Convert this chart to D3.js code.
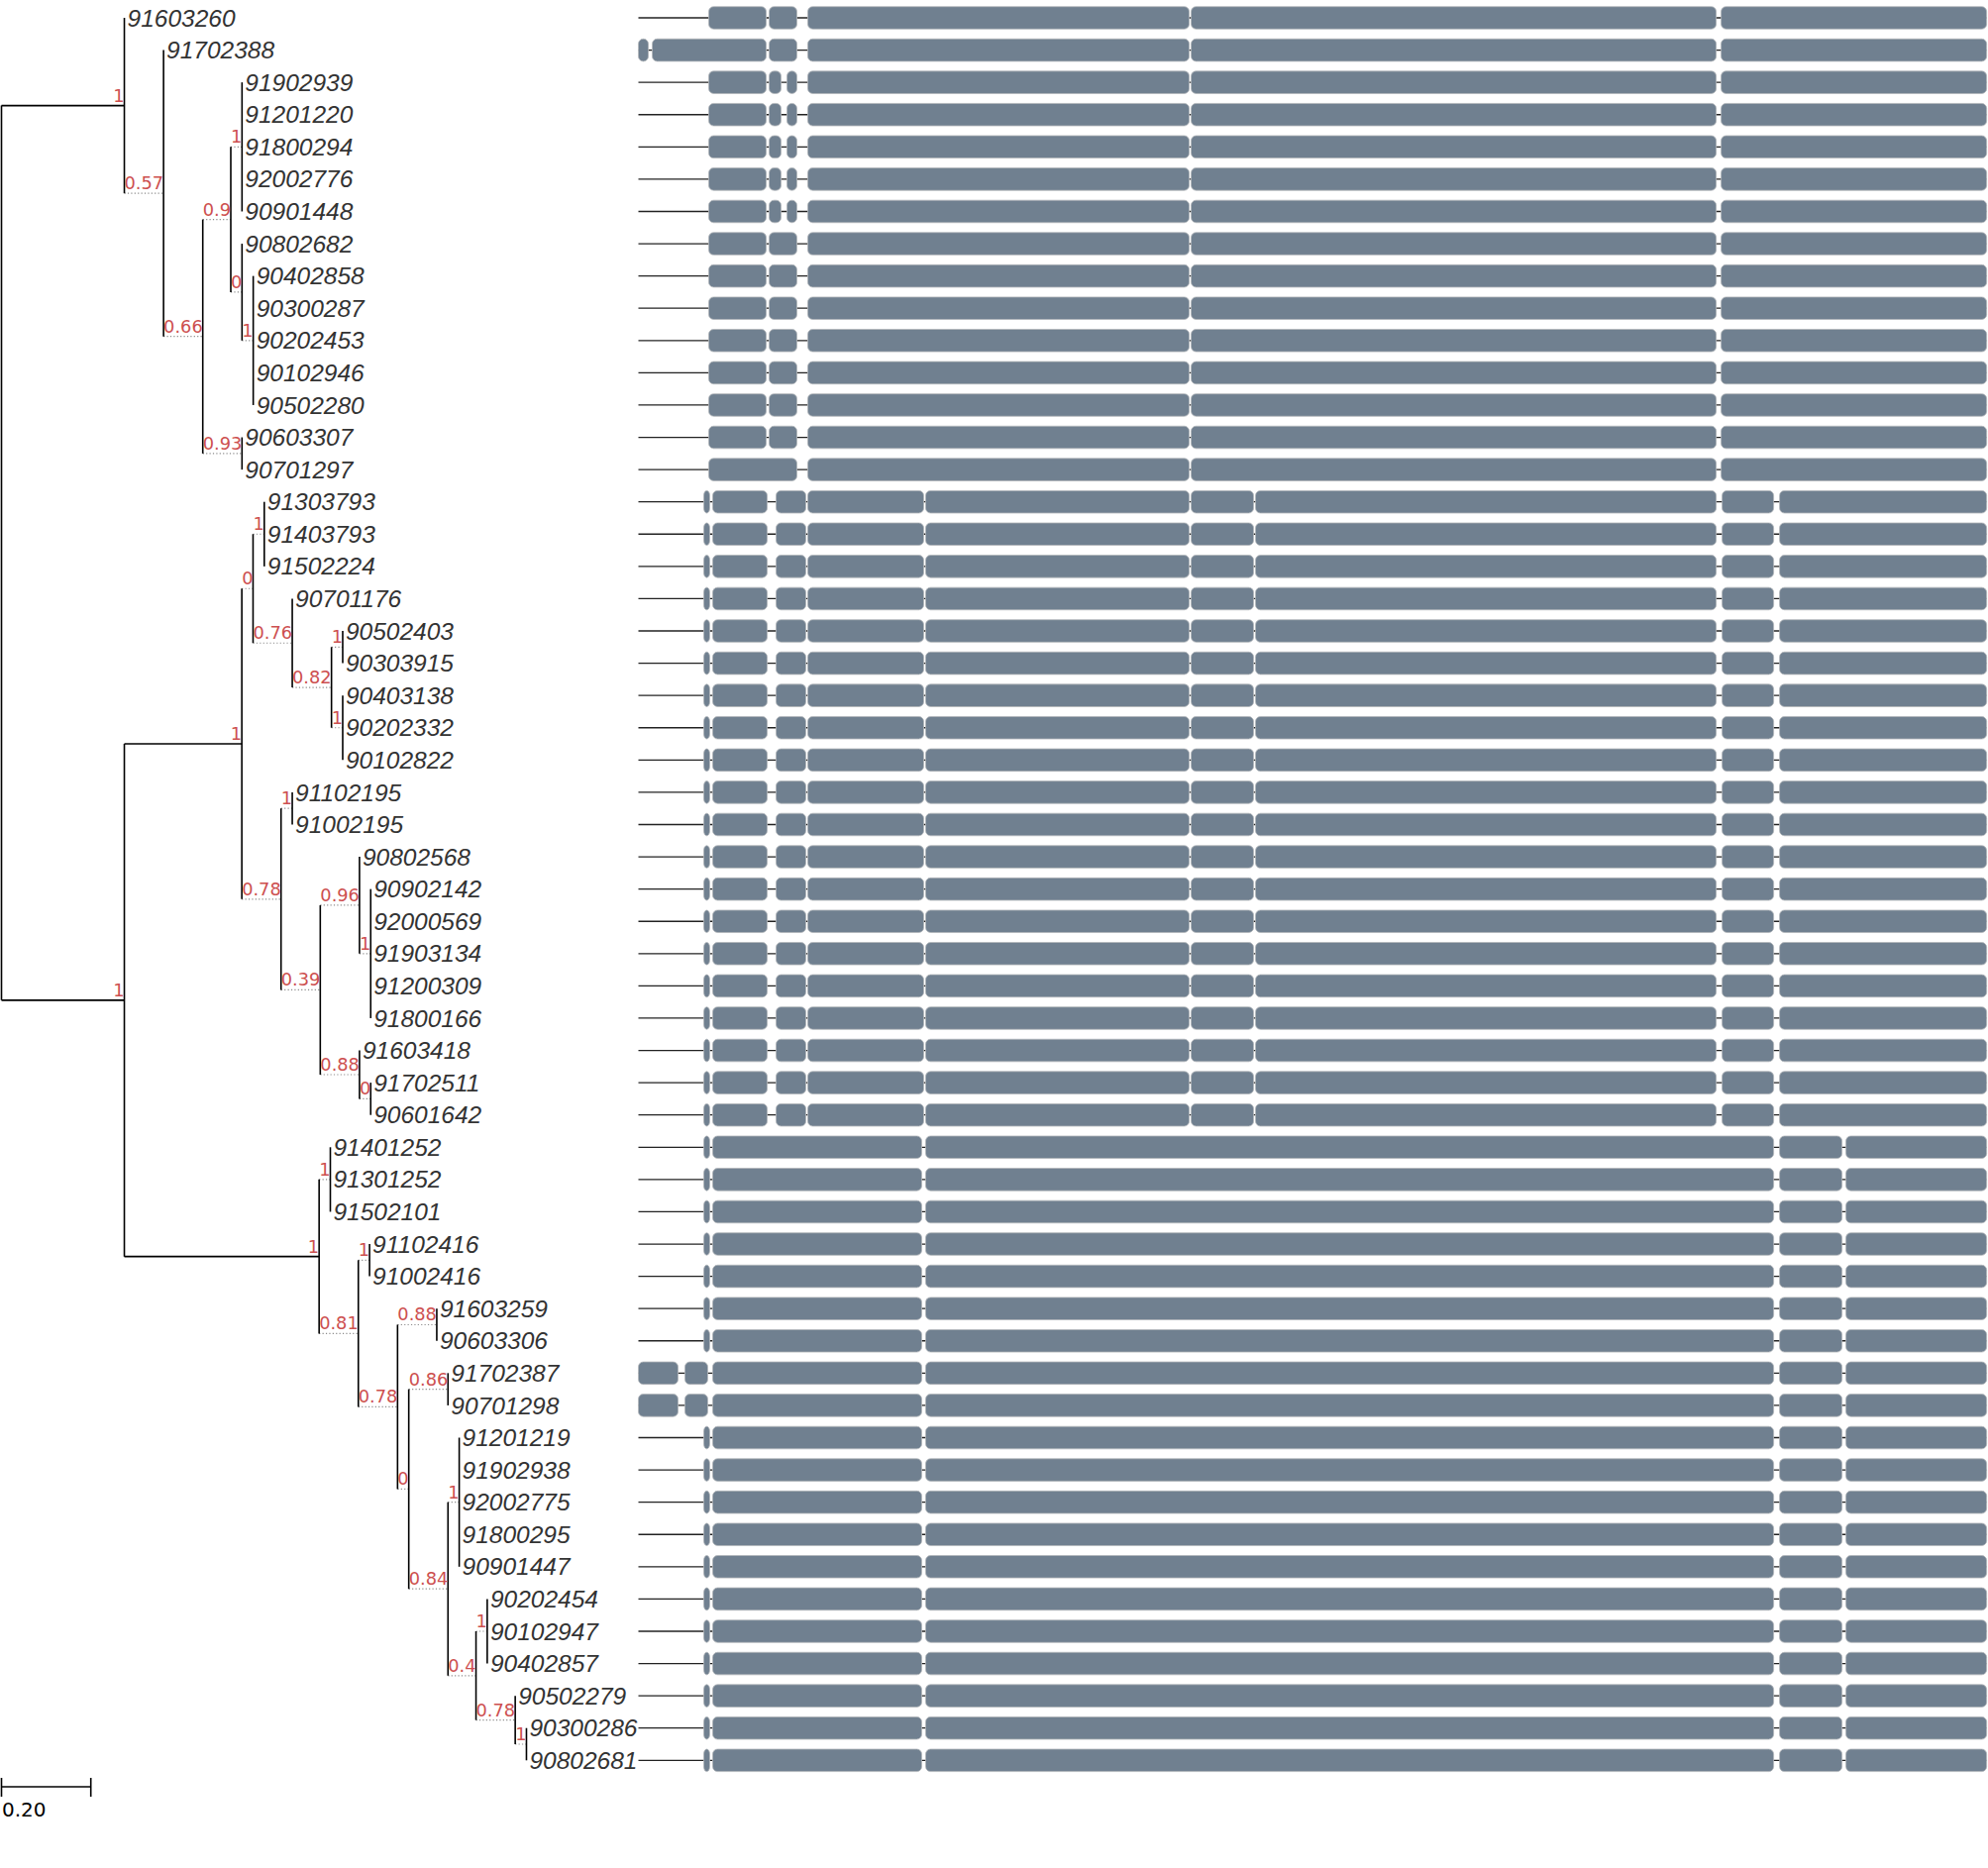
<!DOCTYPE html>
<html lang="en">

<head>
    <meta charset="UTF-8">
    <title>tree with gene structures</title>
    <script src="https://d3js.org/d3.v7.js"></script>
    <style>
        body { margin: 0; background: #fff; }
    </style>
</head>

<body>
    <div class="canvas"></div>

    <script>
        // tree: newick with support values as internal labels, branch lengths after ':'
        let cladeA = "(91603260:0,(91702388:0,(((91902939:0,91201220:0,91800294:0,92002776:0,90901448:0)1:0,"
            + "(90802682:0,(90402858:0,90300287:0,90202453:0,90102946:0,90502280:0)1:0)0:0)0.9:0,"
            + "(90603307:0,90701297:0)0.93:0)0.66:0)0.57:0)1:0.275";
        let cladeJ = "(((91303793:0,91403793:0,91502224:0)1:0,(90701176:0,((90502403:0,90303915:0)1:0,"
            + "(90403138:0,90202332:0,90102822:0)1:0)0.82:0)0.76:0)0:0,((91102195:0,91002195:0)1:0,"
            + "((90802568:0,(90902142:0,92000569:0,91903134:0,91200309:0,91800166:0)1:0)0.96:0,"
            + "(91603418:0,(91702511:0,90601642:0)0:0)0.88:0)0.39:0)0.78:0)1:0.263";
        let cladeX = "((91401252:0,91301252:0,91502101:0)1:0,((91102416:0,91002416:0)1:0,"
            + "((91603259:0,90603306:0)0.88:0,((91702387:0,90701298:0)0.86:0,"
            + "((91201219:0,91902938:0,92002775:0,91800295:0,90901447:0)1:0,"
            + "((90202454:0,90102947:0,90402857:0)1:0,(90502279:0,(90300286:0,90802681:0)1:0)0.78:0)0.4:0)0.84:0)0:0)0.78:0)0.81:0)1:0.436";
        let treeNewick = "(" + cladeA + ",(" + cladeJ + "," + cladeX + ")1:0.275);";

        let scaleBarValue = 0.20;

        // gene structures (feature start/end positions)
        let structA = [[71, 129], [132, 160], [171, 556], [558, 1088], [1093, 1361]];
        let structA1 = [[0, 10], [14, 129], [132, 160], [171, 556], [558, 1088], [1093, 1361]];
        let structA2 = [[71, 129], [132, 144], [150, 160], [171, 556], [558, 1088], [1093, 1361]];
        let structA3 = [[71, 160], [171, 556], [558, 1088], [1093, 1361]];
        let structB = [[66, 72], [75, 130], [139, 169], [171, 288], [290, 556], [558, 621], [623, 1088], [1094, 1146], [1152, 1361]];
        let structC = [[66, 72], [75, 286], [290, 1146], [1152, 1215], [1219, 1361]];
        let structC1 = [[0, 40], [47, 70], [75, 286], [290, 1146], [1152, 1215], [1219, 1361]];
        let geneLength = 1361;

        // which structure each leaf has, in leaf order
        let leafStructure = [
            "A", "A1", "A2", "A2", "A2", "A2", "A2", "A", "A", "A", "A", "A", "A", "A", "A3",
            "B", "B", "B", "B", "B", "B", "B", "B", "B", "B", "B", "B", "B", "B", "B", "B", "B", "B", "B", "B",
            "C", "C", "C", "C", "C", "C", "C", "C1", "C1", "C", "C", "C", "C", "C", "C", "C", "C", "C", "C", "C"
        ];
        let structures = { A: structA, A1: structA1, A2: structA2, A3: structA3, B: structB, C: structC, C1: structC1 };

        // newick parser
        function parseNewick(s) {
            let ancestors = [];
            let tree = {};
            let tokens = s.split(/\s*(;|\(|\)|,|:)\s*/);
            for (let i = 0; i < tokens.length; i++) {
                let t = tokens[i];
                if (t === "(") {
                    let sub = {};
                    tree.children = [sub];
                    ancestors.push(tree);
                    tree = sub;
                } else if (t === ",") {
                    let sub = {};
                    ancestors[ancestors.length - 1].children.push(sub);
                    tree = sub;
                } else if (t === ")") {
                    tree = ancestors.pop();
                } else if (t === ":" || t === ";" || t === "") {
                    // nothing
                } else {
                    let prev = tokens[i - 1];
                    if (prev === ":") tree.length = parseFloat(t);
                    else tree.name = t;
                }
            }
            return tree;
        }

        let width = 2007, height = 1886;
        let rootX = 1.5;
        let supportFont = { family: "'DejaVu Sans', sans-serif", size: 17.8 };

        let svg = d3.select(".canvas")
            .append("svg")
            .attr("width", width)
            .attr("height", height);

        let root = d3.hierarchy(parseNewick(treeNewick));
        let leaves = root.leaves();

        // scales
        let bl_scale = d3.scaleLinear().domain([0, 1]).range([0, 451]);
        let y_scale = d3.scalePoint()
            .domain(leaves.map(d => d.data.name))
            .range([18, 1777.3]);
        let gene_scale = d3.scaleLinear().domain([0, geneLength]).range([644.5, 2005.6]);

        // measure support text width (branch is stretched to fit it)
        let measure = svg.append("text")
            .attr("font-family", supportFont.family)
            .attr("font-size", supportFont.size + "px");
        function textWidth(s) {
            measure.text(s);
            return measure.node().getComputedTextLength();
        }

        root.eachAfter(d => {
            if (!d.children) d.y = y_scale(d.data.name);
            else d.y = (d.children[0].y + d.children[d.children.length - 1].y) / 2;
        });
        root.eachBefore(d => {
            if (!d.parent) { d.x = rootX; return; }
            let solid = bl_scale(d.data.length || 0);
            d.solidEnd = d.parent.x + solid;
            if (d.children) d.x = d.parent.x + Math.max(solid, textWidth(d.data.name));
            else d.x = d.solidEnd;
        });
        measure.remove();

        let tree_g = svg.append("g").attr("class", "tree");
        let nodes = root.descendants().filter(d => d.parent);
        let inner = root.descendants().filter(d => d.children);

        // solid branches
        tree_g.selectAll(".branch").data(nodes.filter(d => d.solidEnd > d.parent.x))
            .enter().append("line")
            .attr("class", "branch")
            .attr("x1", d => d.parent.x).attr("x2", d => d.solidEnd)
            .attr("y1", d => d.y).attr("y2", d => d.y)
            .attr("stroke", "#000").attr("stroke-width", 1.6);

        // dotted extension where the support label is wider than the branch
        tree_g.selectAll(".ext").data(nodes.filter(d => d.children && d.x > d.solidEnd + 0.5))
            .enter().append("line")
            .attr("class", "ext")
            .attr("x1", d => d.solidEnd).attr("x2", d => d.x)
            .attr("y1", d => d.y).attr("y2", d => d.y)
            .attr("stroke", "#8c8c8c").attr("stroke-width", 1.2)
            .attr("stroke-dasharray", "1.2,2.2");

        // vertical connectors
        tree_g.selectAll(".vline").data(inner)
            .enter().append("line")
            .attr("class", "vline")
            .attr("x1", d => d.x).attr("x2", d => d.x)
            .attr("y1", d => d.children[0].y)
            .attr("y2", d => d.children[d.children.length - 1].y)
            .attr("stroke", "#000").attr("stroke-width", 1.6);

        // support values
        tree_g.selectAll(".support").data(inner.filter(d => d.parent))
            .enter().append("text")
            .attr("class", "support")
            .attr("x", d => d.x)
            .attr("y", d => d.y - 4)
            .attr("text-anchor", "end")
            .attr("font-family", supportFont.family)
            .attr("font-size", supportFont.size + "px")
            .attr("fill", "#cd5050")
            .text(d => d.data.name);

        // leaf names
        tree_g.selectAll(".leaf").data(leaves)
            .enter().append("text")
            .attr("class", "leaf")
            .attr("x", d => d.x + 3)
            .attr("y", d => d.y + 8.6)
            .attr("font-family", "'Liberation Sans', Arial, sans-serif")
            .attr("font-style", "italic")
            .attr("font-size", "24.5px")
            .attr("fill", "#333")
            .text(d => d.data.name);

        // gene structures
        let gene_g = svg.append("g").attr("class", "genes");
        let rows = gene_g.selectAll(".gene").data(leaves)
            .enter().append("g")
            .attr("class", "gene")
            .attr("transform", d => "translate(0," + d.y + ")");
        rows.append("line")
            .attr("x1", gene_scale(0)).attr("x2", gene_scale(geneLength))
            .attr("y1", 0).attr("y2", 0)
            .attr("stroke", "#222").attr("stroke-width", 1.3);
        rows.selectAll("rect")
            .data((d, i) => structures[leafStructure[i]])
            .enter().append("rect")
            .attr("x", s => gene_scale(s[0]))
            .attr("y", -11.3)
            .attr("width", s => gene_scale(s[1]) - gene_scale(s[0]))
            .attr("height", 22.6)
            .attr("rx", s => Math.min(5, (gene_scale(s[1]) - gene_scale(s[0])) / 2))
            .attr("ry", 5)
            .attr("fill", "slategray")
            .attr("stroke", "#b2b6ba")
            .attr("stroke-width", 0.8);

        // scale bar
        let bar_g = svg.append("g").attr("class", "scalebar");
        let barEnd = rootX + bl_scale(scaleBarValue);
        bar_g.append("line")
            .attr("x1", rootX).attr("x2", barEnd)
            .attr("y1", 1804).attr("y2", 1804)
            .attr("stroke", "#000").attr("stroke-width", 1.6);
        bar_g.selectAll(".tick").data([rootX, barEnd])
            .enter().append("line")
            .attr("class", "tick")
            .attr("x1", d => d).attr("x2", d => d)
            .attr("y1", 1795).attr("y2", 1814)
            .attr("stroke", "#000").attr("stroke-width", 1.6);
        bar_g.append("text")
            .attr("x", 2)
            .attr("y", 1834)
            .attr("font-family", "'DejaVu Sans', sans-serif")
            .attr("font-size", "20px")
            .attr("fill", "#000")
            .text(scaleBarValue.toFixed(2));
    </script>
</body>

</html>
